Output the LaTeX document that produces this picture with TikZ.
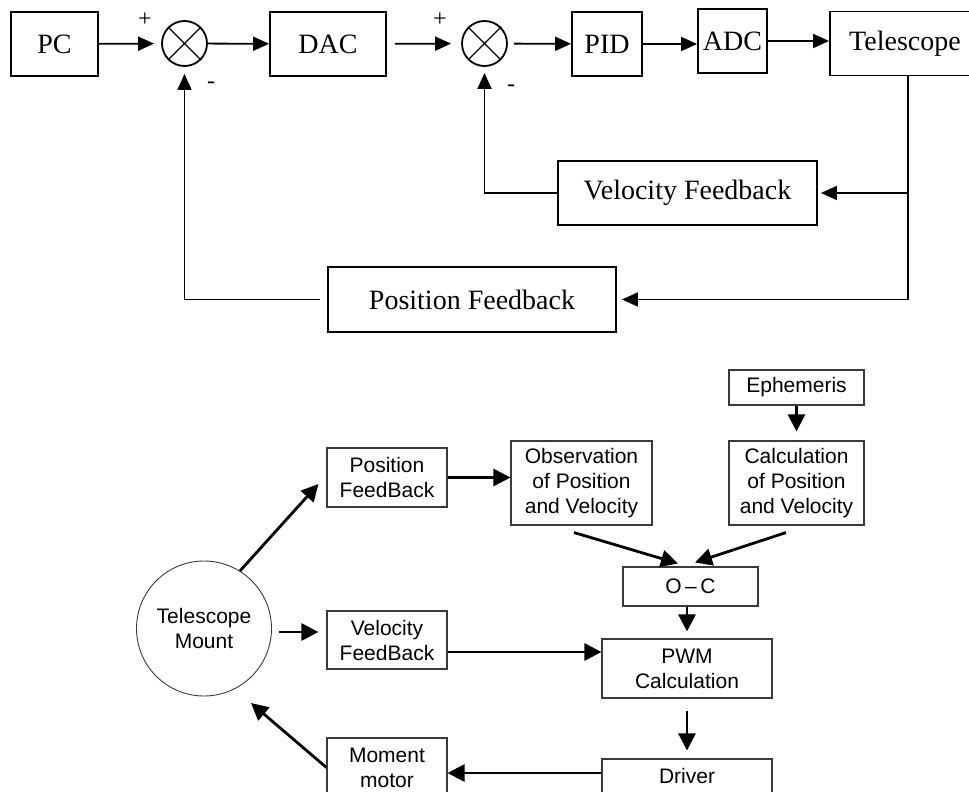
\documentclass[tikz,border=0pt]{standalone}
\usepackage{fontspec}
\setmainfont{Liberation Serif}
\newfontfamily\arialfont{Liberation Sans}
\usetikzlibrary{arrows.meta,positioning}
\definecolor{mountgray}{HTML}{3A3A3A}

\begin{document}
\begin{tikzpicture}[x=1pt,y=-1pt,
    blk/.style={draw,line width=1.8pt,inner sep=0pt,minimum height=64pt,font=\fontsize{28}{30}\selectfont},
    sumnode/.style={draw,circle,line width=1.8pt,minimum size=45pt,inner sep=0pt},
    sgn/.style={inner sep=0pt,font=\fontsize{24}{24}\selectfont},
    sig/.style={line width=1.8pt,-{Triangle[length=16pt,width=14pt]}},
    fbk/.style={draw=mountgray,line width=1.1pt,inner sep=0pt,align=center,font=\arialfont\fontsize{21}{25}\selectfont},
    flow/.style={line width=2.8pt,-{Triangle[length=17pt,width=17pt]}}]
  \clip (0,0) rectangle (969,792);
  % servo loop
  \foreach \x/\y/\w/\n/\t in {54.5/44/87/pc/PC,328/44/116/dac/DAC,607/44/70/pid/PID,732.5/41/69/adc/ADC,905/43.5/150/tel/Telescope}
    \node[blk,minimum width=\w pt] (\n) at (\x,\y) {\t};
  \node[sumnode] (s1) at (184.5,43.5) {};
  \node[sumnode] (s2) at (484.5,43.5) {};
  \foreach \s in {s1,s2}
    \draw[line width=1.4pt] (\s.north west) -- (\s.south east) (\s.north east) -- (\s.south west);
  \node[sgn] (p1) at (145,20) {+};
  \node[sgn] (m1) at (211,85) {-};
  \node[sgn] (p2) at (440,20) {+};
  \node[sgn] (m2) at (511,88) {-};
  \draw[sig,shorten >=7pt] (pc) -- (s1);
  \draw[sig] (s1) -- (dac);
  \draw[sig,shorten <=8pt,shorten >=10pt] (dac) -- (s2);
  \draw[sig,shorten <=6pt] (s2) -- (pid);
  \draw[sig] (pid.east) -- (pid.east -| adc.west);
  \draw[sig] (adc.east) -- (adc.east -| tel.west);
  % feedback paths
  \node[blk,minimum width=259pt] (velfb) at (687.5,193) {Velocity Feedback};
  \node[blk,minimum width=288pt,minimum height=65pt] (posfb) at (472,299.5) {Position Feedback};
  \path (tel.south) ++(3,0) coordinate (tap);
  \draw[sig,shorten >=3pt] (tap |- velfb.east) -- (velfb.east);
  \draw[sig,shorten >=5pt] (tap) |- (posfb.east);
  \draw[sig,shorten >=6pt] (velfb.west) -| (s2.south);
  \draw[sig,shorten <=7pt,shorten >=7pt] (posfb.west) -| (s1.south);

  % tracking scheme
  \node[fbk,minimum width=135pt,minimum height=35pt] (eph) at (796.5,387.5) {Ephemeris};
  \node[fbk,minimum width=135pt,minimum height=84pt] (calc) at (796.5,483) {Calculation\\of Position\\and Velocity};
  \node[fbk,minimum width=141pt,minimum height=84pt] (obs) at (581.5,483) {Observation\\of Position\\and Velocity};
  \node[fbk,minimum width=120pt,minimum height=59pt] (pfb) at (387,477.5) {Position\\FeedBack};
  \node[fbk,minimum width=135pt,minimum height=39pt] (oc) at (690.5,586.5) {O\,–\,C};
  \node[fbk,minimum width=170pt,minimum height=59pt] (pwm) at (687,668.5) {PWM\\Calculation};
  \node[fbk,minimum width=170pt,minimum height=59pt] (drv) at (687,788.5) {Driver\\\mbox{}};
  \node[fbk,minimum width=120pt,minimum height=58pt] (vfb) at (387,640) {Velocity\\FeedBack};
  \node[fbk,minimum width=120pt,minimum height=59pt] (mm) at (387,767.5) {Moment\\motor};
  \node[fbk,circle,line width=0.9pt,minimum size=135pt] (mount) at (204,628.5) {Telescope\\Mount};
  \draw[flow,shorten >=9pt] (eph) -- (calc);
  \draw[flow] (pfb.east) -- (pfb.east -| obs.west);
  \draw[flow] ([shift={(-7.5,7)}]obs.south) -- ([shift={(-12.5,-3)}]oc.north);
  \draw[flow] ([shift={(-10.5,7)}]calc.south) -- ([shift={(4.5,-4)}]oc.north);
  \draw[flow,shorten >=7pt] (pwm.north |- oc.south) -- (pwm.north);
  \draw[flow,shorten <=12pt,shorten >=8pt] (pwm) -- (drv);
  \path ([shift={(0,12)}]vfb.east) coordinate (vfbout);
  \draw[flow] (vfbout) -- (vfbout -| pwm.west);
  \path ([shift={(0,3.5)}]mount.east) coordinate (mountout);
  \draw[flow,shorten <=7pt,shorten >=8pt] (mountout) -- (mountout -| vfb.west);
  \path ([shift={(0,5.5)}]mm.east) coordinate (mmin);
  \draw[flow] (mmin -| drv.west) -- (mmin);
  \draw[flow] (mount.58) -- ([shift={(-8,6.5)}]pfb.west);
  \draw[flow] (mm.west) -- ([shift={(47,74.5)}]mount.center);
\end{tikzpicture}
\end{document}
